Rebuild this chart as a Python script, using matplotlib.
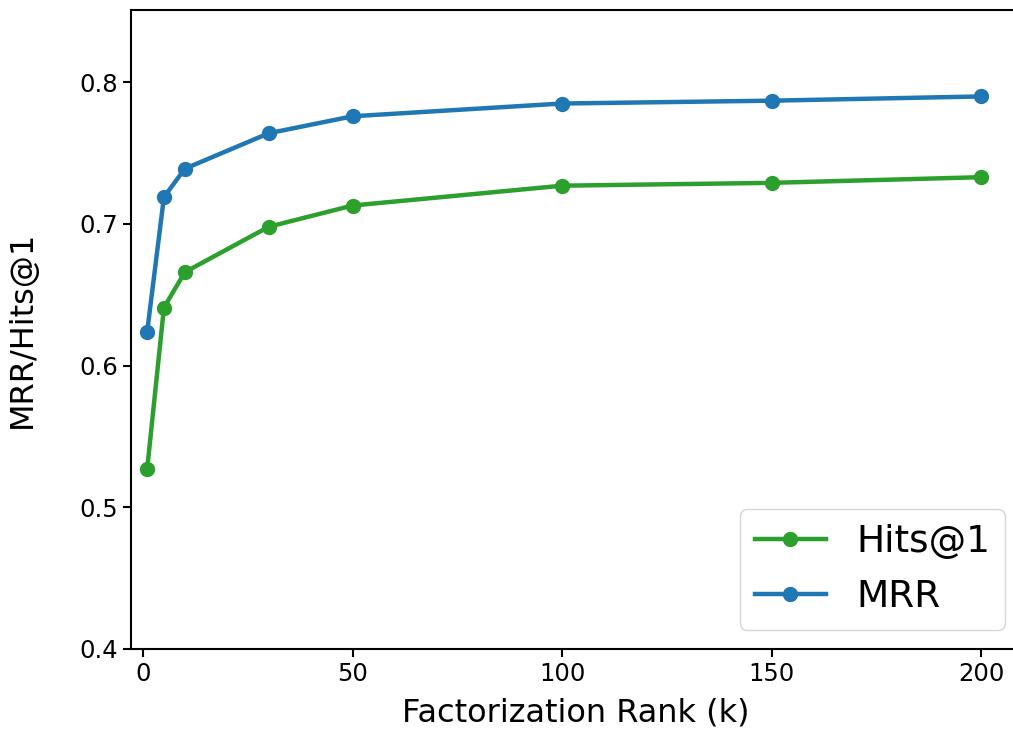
import matplotlib
matplotlib.use('Agg')
import matplotlib.pyplot as plt

# factorization rank vs. metrics
ranks = [1, 5, 10, 30, 50, 100, 150, 200]
hits1 = [0.527, 0.641, 0.666, 0.698, 0.713, 0.727, 0.729, 0.733]
mrr = [0.624, 0.719, 0.739, 0.764, 0.776, 0.785, 0.787, 0.790]

fig = plt.figure(figsize=(10.13, 7.56), dpi=100)
# axes is cut off on the right in the reference
ax = fig.add_axes([131 / 1013, 107 / 756, 890 / 1013, 639 / 756])

ax.plot(ranks, hits1, color='#2ca02c', marker='o', linewidth=3.2, markersize=10, label='Hits@1')
ax.plot(ranks, mrr, color='#1f77b4', marker='o', linewidth=3.2, markersize=10, label='MRR')

ax.set_xlim(-2.86, 209.5)
ax.set_ylim(0.4, 0.851)
ax.set_xticks([0, 50, 100, 150, 200])
ax.set_yticks([0.4, 0.5, 0.6, 0.7, 0.8])
ax.tick_params(labelsize=17.5, width=1.5, length=6)
for s in ax.spines.values():
    s.set_linewidth(1.5)
ax.spines['right'].set_visible(False)

ax.set_xlabel('Factorization Rank (k)', fontsize=23, labelpad=8)
ax.set_ylabel('MRR/Hits@1', fontsize=23, labelpad=30)

leg = ax.legend(loc='lower right', fontsize=27, bbox_to_anchor=(0.982, 0.030),
                borderaxespad=0, handlelength=1.9)
leg.get_frame().set_edgecolor('#cccccc')

fig.savefig('out.png', dpi=100)
